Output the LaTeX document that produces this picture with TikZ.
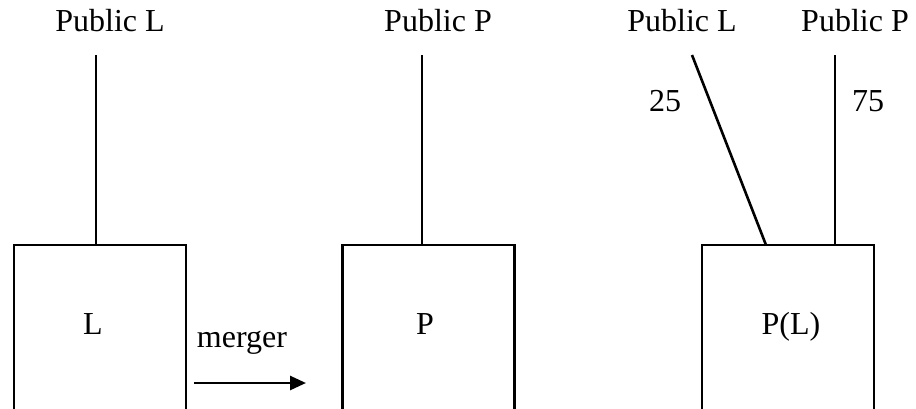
\documentclass[tikz,border=0pt]{standalone}
\usepackage{fontspec}
\setmainfont{Liberation Serif}
\usetikzlibrary{arrows.meta}
\begin{document}
\begin{tikzpicture}[x=0.5pt,y=-0.5pt,
  line width=1.3pt,
  firm/.style={draw, rectangle, minimum width=86pt, minimum height=90pt, inner sep=0pt},
  txt/.style={font=\fontsize{16}{19}\selectfont, inner sep=0pt, anchor=base},
  link/.style={draw},
  flow/.style={draw, -{Triangle[length=8pt,width=7pt]}}]
\useasboundingbox (0,0) rectangle (916,408);
\clip (0,0) rectangle (916,408);

% firms (boxes run past the lower edge)
\node[firm] (L)  at (100,335) {};
\node[firm] (P)  at (428.5,335) {};
\node[firm] (PL) at (788,335) {};

% box captions
\node[txt] (tL)  at (93,334)  {L};
\node[txt] (tP)  at (425,334) {P};
\node[txt] (tPL) at (791,334) {P(L)};

% shareholder labels
\node[txt] (pubL1) at (110,31) {Public L};
\node[txt] (pubP1) at (438,31) {Public P};
\node[txt] (pubL2) at (682,31) {Public L};
\node[txt] (pubP2) at (855,31) {Public P};

% ownership lines
\coordinate (oL)  at (96,55);
\coordinate (oP)  at (422,55);
\coordinate (oL2) at (692,55);
\coordinate (oP2) at (835,55);
\coordinate (eL2) at (766,245);
\draw[link] (oL) -- (oL |- L.north);
\draw[link] (oP) -- (oP |- P.north);
\draw[link] (oL2) -- (eL2);
\draw[link] (oP2) -- (oP2 |- PL.north);

% stake percentages
\node[txt] (s25) at (665,111) {25};
\node[txt] (s75) at (868,111) {75};

% merger arrow
\node[txt] (mg) at (242,347) {merger};
\coordinate (a1) at (194,383);
\coordinate (a2) at (306,383);
\draw[flow] (a1) -- (a2);
\end{tikzpicture}
\end{document}
